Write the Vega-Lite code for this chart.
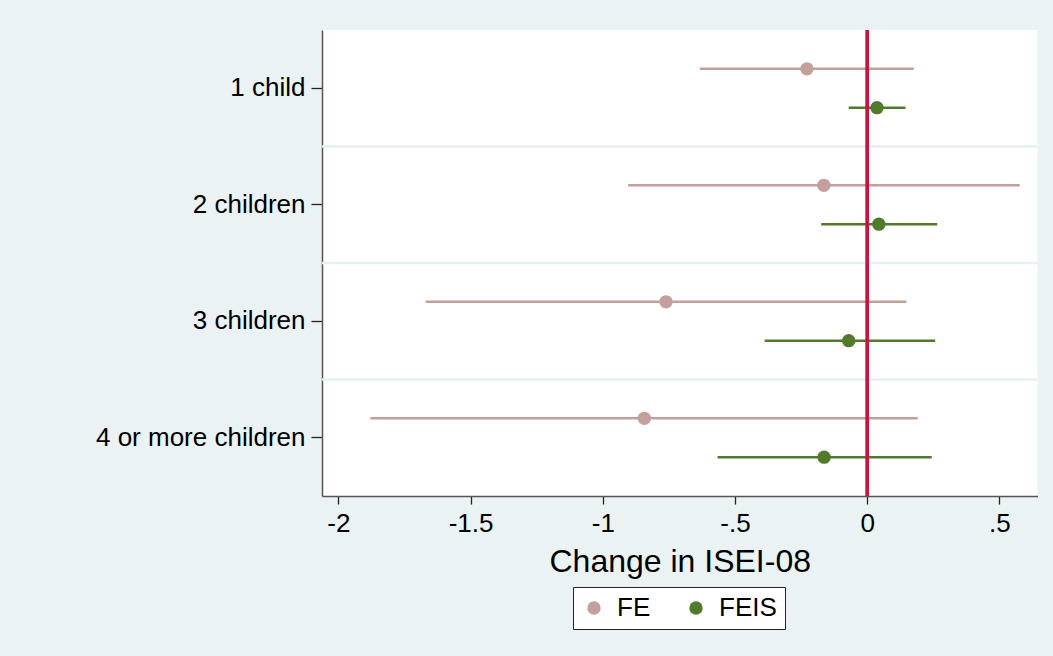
{
  "$schema": "https://vega.github.io/schema/vega-lite/v6.json",
  "autosize": "none",
  "width": 715.5,
  "height": 466,
  "padding": {"left": 322, "top": 30, "right": 15.5, "bottom": 160},
  "background": "#EAF2F3",
  "config": {
    "view": {"fill": "white", "stroke": null},
    "font": "Liberation Sans",
    "axis": {"labelColor": "black", "titleColor": "black", "labelFont": "Liberation Sans", "titleFont": "Liberation Sans"},
    "legend": {"labelFont": "Liberation Sans", "labelColor": "black"}
  },
  "data": {
    "values": [
      {"cat": "1 child", "model": "FE", "est": -0.228, "lo": -0.633, "hi": 0.176},
      {"cat": "1 child", "model": "FEIS", "est": 0.037, "lo": -0.070, "hi": 0.145},
      {"cat": "2 children", "model": "FE", "est": -0.164, "lo": -0.904, "hi": 0.577},
      {"cat": "2 children", "model": "FEIS", "est": 0.044, "lo": -0.174, "hi": 0.265},
      {"cat": "3 children", "model": "FE", "est": -0.761, "lo": -1.670, "hi": 0.148},
      {"cat": "3 children", "model": "FEIS", "est": -0.070, "lo": -0.388, "hi": 0.257},
      {"cat": "4 or more children", "model": "FE", "est": -0.843, "lo": -1.879, "hi": 0.191},
      {"cat": "4 or more children", "model": "FEIS", "est": -0.163, "lo": -0.566, "hi": 0.244}
    ]
  },
  "layer": [
    {
      "transform": [{"filter": "datum.model == 'FE' && datum.cat != '1 child'"}],
      "mark": {"type": "rule", "color": "#E6EFF1", "strokeWidth": 2.5},
      "encoding": {
        "y": {"field": "cat", "type": "nominal", "bandPosition": 0,
              "sort": ["1 child", "2 children", "3 children", "4 or more children"],
              "scale": {"paddingInner": 0, "paddingOuter": 0},
              "axis": {
                "title": null, "grid": false,
                "labelFontSize": 26, "labelPadding": 6, "labelLimit": 0,
                "tickSize": 11, "tickColor": "#222", "tickWidth": 1.3,
                "domainColor": "#555", "domainWidth": 1.5
              }}
      }
    },
    {
      "transform": [{"filter": "datum.model == 'FE'"}],
      "mark": {"type": "rule", "strokeWidth": 2.5, "color": "#C4A09C"},
      "encoding": {
        "y": {"field": "cat", "type": "nominal",
              "sort": ["1 child", "2 children", "3 children", "4 or more children"]},
        "x": {
          "field": "lo", "type": "quantitative",
          "scale": {"domain": [-2.062, 0.644], "nice": false, "zero": false},
          "axis": {
            "title": "Change in ISEI-08", "titleFontSize": 32, "titleFontWeight": "normal", "titlePadding": 10,
            "values": [-2, -1.5, -1, -0.5, 0, 0.5],
            "labelExpr": "datum.value == 0 ? '0' : replace(toString(datum.value), '0.', '.')",
            "labelFontSize": 26, "labelPadding": 6,
            "tickSize": 8, "tickColor": "#222", "tickWidth": 1.3,
            "domainColor": "#555", "domainWidth": 1.5, "grid": false
          }
        },
        "x2": {"field": "hi"},
        "yOffset": {"field": "model", "type": "nominal", "scale": {"type": "point", "padding": 1, "domain": ["FE", "FEIS"]}}
      }
    },
    {
      "transform": [{"filter": "datum.model == 'FEIS'"}],
      "mark": {"type": "rule", "strokeWidth": 2.5, "color": "#527A2B"},
      "encoding": {
        "y": {"field": "cat", "type": "nominal",
              "sort": ["1 child", "2 children", "3 children", "4 or more children"]},
        "x": {"field": "lo", "type": "quantitative"},
        "x2": {"field": "hi"},
        "yOffset": {"field": "model", "type": "nominal"}
      }
    },
    {
      "mark": {"type": "rule", "color": "#D0103F", "strokeWidth": 2.7},
      "encoding": {"x": {"datum": 0, "type": "quantitative"}}
    },
    {
      "mark": {"type": "point", "shape": "circle", "filled": true, "opacity": 1, "size": 180},
      "encoding": {
        "y": {"field": "cat", "type": "nominal",
              "sort": ["1 child", "2 children", "3 children", "4 or more children"]},
        "x": {"field": "est", "type": "quantitative"},
        "yOffset": {"field": "model", "type": "nominal"},
        "color": {
          "field": "model", "type": "nominal",
          "scale": {"domain": ["FE", "FEIS"], "range": ["#C4A09C", "#527A2B"]},
          "legend": {
            "title": null, "orient": "none", "legendX": 251, "legendY": 557,
            "direction": "horizontal",
            "fillColor": "white", "strokeColor": "#222",
            "padding": 8, "columnPadding": 32,
            "symbolType": "circle", "symbolSize": 180,
            "labelFontSize": 26, "labelOffset": 10
          }
        }
      }
    }
  ]
}
